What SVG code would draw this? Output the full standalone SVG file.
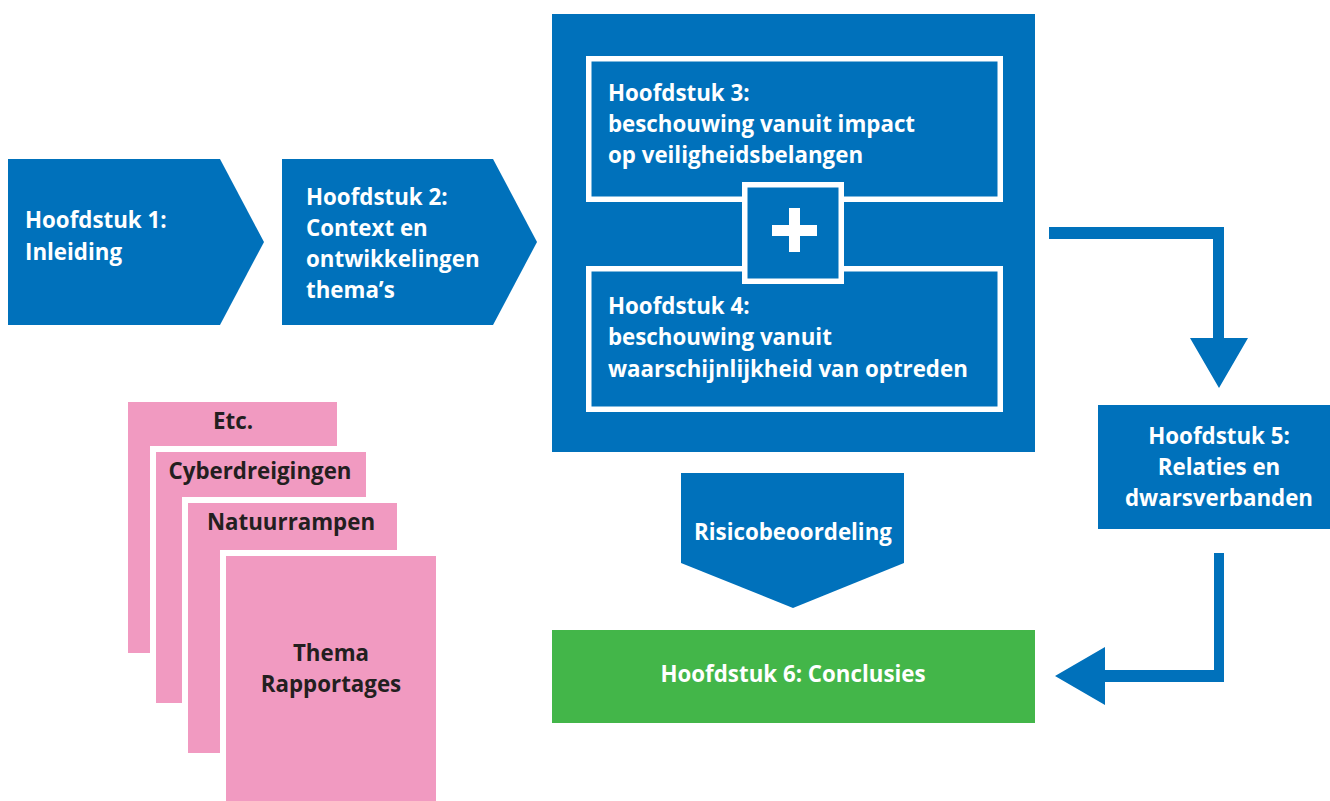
<svg xmlns="http://www.w3.org/2000/svg" width="1330" height="801" viewBox="0 0 1330 801">
<style>
.blue{fill:#0071bb}
.t{font-family:"Open Sans","Noto Sans",sans-serif;font-weight:700;font-size:22.3px;fill:#ffffff}
.d{font-family:"Open Sans","Noto Sans",sans-serif;font-weight:700;font-size:22.3px;fill:#231f20}
.pink{fill:#f19ac1}
.inner{fill:#0071bb;stroke:#ffffff;stroke-width:5.5}
</style>
<rect width="1330" height="801" fill="#ffffff"/>
<g id="h1">
<polygon class="blue" points="8,159 220,159 264,242 220,325 8,325"/>
<text class="t" x="25" y="228">Hoofdstuk 1:</text>
<text class="t" x="25" y="260">Inleiding</text>
</g>
<g id="h2">
<polygon class="blue" points="282,159 493,159 537,242 493,325 282,325"/>
<text class="t" x="306" y="205">Hoofdstuk 2:</text>
<text class="t" x="306" y="236">Context en</text>
<text class="t" x="306" y="267">ontwikkelingen</text>
<text class="t" x="306" y="298">thema’s</text>
</g>
<g id="h34">
<rect class="blue" x="552" y="14" width="483" height="438"/>
<g id="h3">
<rect class="inner" x="588.75" y="58.75" width="411.5" height="140.5"/>
<text class="t" x="608" y="101">Hoofdstuk 3:</text>
<text class="t" x="608" y="132">beschouwing vanuit impact</text>
<text class="t" x="608" y="163">op veiligheidsbelangen</text>
</g>
<g id="h4">
<rect class="inner" x="588.75" y="268.75" width="411.5" height="140.5"/>
<text class="t" x="608" y="314">Hoofdstuk 4:</text>
<text class="t" x="608" y="345">beschouwing vanuit</text>
<text class="t" x="608" y="377">waarschijnlijkheid van optreden</text>
</g>
<g id="plus">
<rect class="inner" x="744.75" y="184.75" width="96.5" height="96.5"/>
<rect fill="#ffffff" x="772" y="225" width="45" height="11"/>
<rect fill="#ffffff" x="789" y="208" width="11" height="44"/>
</g>
</g>
<g id="h5">
<rect class="blue" x="1098" y="405" width="232" height="124"/>
<text class="t" x="1219" y="444" text-anchor="middle">Hoofdstuk 5:</text>
<text class="t" x="1219" y="475" text-anchor="middle">Relaties en</text>
<text class="t" x="1219" y="506" text-anchor="middle">dwarsverbanden</text>
</g>
<g id="risico">
<polygon class="blue" points="681,473 904,473 904,563 793,608 681,563"/>
<text class="t" x="793" y="540" text-anchor="middle">Risicobeoordeling</text>
</g>
<g id="h6">
<rect fill="#43b649" x="552" y="630" width="483" height="93"/>
<text class="t" x="793" y="682" text-anchor="middle">Hoofdstuk 6: Conclusies</text>
</g>
<g id="themas">
<rect class="pink" x="128" y="402" width="209" height="251"/>
<text class="d" x="233" y="429" text-anchor="middle">Etc.</text>
<rect fill="#ffffff" x="150" y="446" width="216" height="257"/>
<rect class="pink" x="156" y="452" width="210" height="251"/>
<text class="d" x="260" y="479" text-anchor="middle">Cyberdreigingen</text>
<rect fill="#ffffff" x="182" y="497" width="215" height="256"/>
<rect class="pink" x="188" y="503" width="209" height="250"/>
<text class="d" x="291" y="530" text-anchor="middle">Natuurrampen</text>
<rect fill="#ffffff" x="220" y="550" width="216" height="251"/>
<rect class="pink" x="226" y="556" width="210" height="245"/>
<text class="d" x="331" y="661" text-anchor="middle">Thema</text>
<text class="d" x="331" y="692" text-anchor="middle">Rapportages</text>
</g>
<g id="connectors">
<polygon class="blue" points="1049,227 1224,227 1224,338 1248,338 1219,388 1190,338 1213,338 1213,239 1049,239"/>
<polygon class="blue" points="1214,553 1224,553 1224,682 1105,682 1105,705 1055,676 1105,647 1105,670 1214,670"/>
</g>
</svg>
